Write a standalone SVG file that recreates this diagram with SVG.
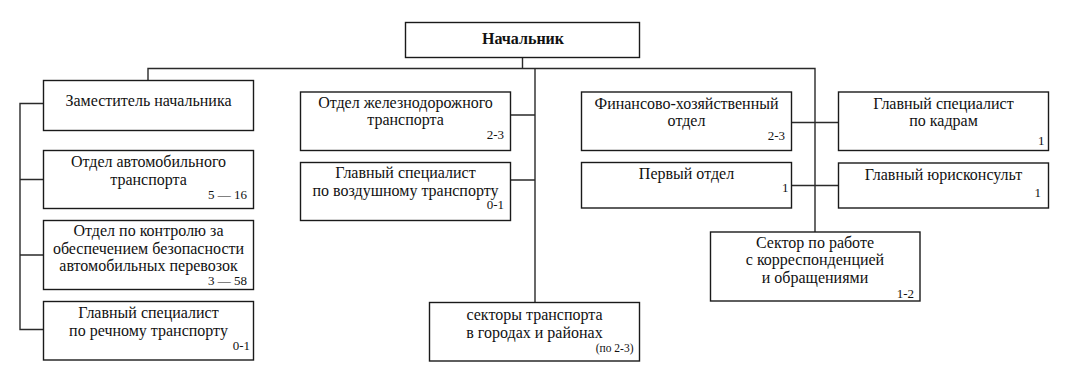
<svg xmlns="http://www.w3.org/2000/svg" width="1065" height="381" viewBox="0 0 1065 381">
<rect width="1065" height="381" fill="#fff"/>
<g id="connectors" fill="none" stroke="#2a2a2a" stroke-width="1.4">
<path d="M522.5 57.5V68.5M148 80.5V68.5H815V232M535 68.5V302.5"/>
<path d="M43.5 103.5H20V329.5H43.5M20 179.5H43.5M20 255H43.5"/>
<path d="M510.5 115H535M510.5 180H535"/>
<path d="M791.5 122.5H838.5M791.5 185.5H838.5"/>
</g>
<g fill="#fff" stroke="#1a1a1a" stroke-width="1.4">
<rect id="box-chief" x="405.5" y="22.5" width="234" height="35"/>
<rect id="box-deputy" x="43.5" y="80.5" width="210" height="50"/>
<rect id="box-auto" x="43.5" y="150.5" width="210" height="58"/>
<rect id="box-control" x="43.5" y="220.5" width="210" height="69"/>
<rect id="box-river" x="43.5" y="301.5" width="210" height="58.5"/>
<rect id="box-rail" x="300.5" y="92" width="210" height="58.5"/>
<rect id="box-air" x="300.5" y="162.5" width="210" height="58"/>
<rect id="box-sectors" x="429.5" y="302.5" width="210" height="58.5"/>
<rect id="box-fin" x="581.5" y="92" width="210" height="58.5"/>
<rect id="box-first" x="581.5" y="162.5" width="210" height="45.5"/>
<rect id="box-hr" x="838.5" y="92" width="210" height="58.5"/>
<rect id="box-legal" x="838.5" y="163" width="210" height="45"/>
<rect id="box-corr" x="710.5" y="232" width="209.5" height="69"/>
</g>
<g id="n-chief"><text style="font-family:'Times New Roman','Liberation Serif',serif;font-size:16px;font-weight:bold" text-anchor="middle" fill="#111" x="523" y="44">Начальник</text></g>
<g id="n-deputy"><text style="font-family:'Times New Roman','Liberation Serif',serif;font-size:16px" text-anchor="middle" fill="#111" x="148.5" y="106">Заместитель начальника</text></g>
<g id="n-auto"><text style="font-family:'Times New Roman','Liberation Serif',serif;font-size:16px" text-anchor="middle" fill="#111" x="148.5" y="166.5">Отдел автомобильного</text><text style="font-family:'Times New Roman','Liberation Serif',serif;font-size:16px" text-anchor="middle" fill="#111" x="148.5" y="184.5">транспорта</text><text style="font-family:'Times New Roman','Liberation Serif',serif;font-size:13px" text-anchor="end" fill="#111" x="247" y="199">5 — 16</text></g>
<g id="n-control"><text style="font-family:'Times New Roman','Liberation Serif',serif;font-size:16px" text-anchor="middle" fill="#111" x="148.5" y="236">Отдел по контролю за</text><text style="font-family:'Times New Roman','Liberation Serif',serif;font-size:16px" text-anchor="middle" fill="#111" x="148.5" y="253.5">обеспечением безопасности</text><text style="font-family:'Times New Roman','Liberation Serif',serif;font-size:16px" text-anchor="middle" fill="#111" x="148.5" y="271">автомобильных перевозок</text><text style="font-family:'Times New Roman','Liberation Serif',serif;font-size:13px" text-anchor="end" fill="#111" x="247" y="284.5">3 — 58</text></g>
<g id="n-river"><text style="font-family:'Times New Roman','Liberation Serif',serif;font-size:16px" text-anchor="middle" fill="#111" x="148.5" y="317.5">Главный специалист</text><text style="font-family:'Times New Roman','Liberation Serif',serif;font-size:16px" text-anchor="middle" fill="#111" x="148.5" y="335.5">по речному транспорту</text><text style="font-family:'Times New Roman','Liberation Serif',serif;font-size:13px" text-anchor="end" fill="#111" x="250" y="349.5">0-1</text></g>
<g id="n-rail"><text style="font-family:'Times New Roman','Liberation Serif',serif;font-size:16px" text-anchor="middle" fill="#111" x="405.5" y="107.5">Отдел железнодорожного</text><text style="font-family:'Times New Roman','Liberation Serif',serif;font-size:16px" text-anchor="middle" fill="#111" x="405.5" y="125">транспорта</text><text style="font-family:'Times New Roman','Liberation Serif',serif;font-size:13px" text-anchor="end" fill="#111" x="504" y="139">2-3</text></g>
<g id="n-air"><text style="font-family:'Times New Roman','Liberation Serif',serif;font-size:16px" text-anchor="middle" fill="#111" x="405.5" y="177.5">Главный специалист</text><text style="font-family:'Times New Roman','Liberation Serif',serif;font-size:16px" text-anchor="middle" fill="#111" x="405.5" y="195.5">по воздушному транспорту</text><text style="font-family:'Times New Roman','Liberation Serif',serif;font-size:13px" text-anchor="end" fill="#111" x="504" y="209">0-1</text></g>
<g id="n-sectors"><text style="font-family:'Times New Roman','Liberation Serif',serif;font-size:16px" text-anchor="middle" fill="#111" x="534.5" y="320">секторы транспорта</text><text style="font-family:'Times New Roman','Liberation Serif',serif;font-size:16px" text-anchor="middle" fill="#111" x="534.5" y="337.5">в городах и районах</text><text style="font-family:'Times New Roman','Liberation Serif',serif;font-size:11.5px" text-anchor="end" fill="#111" x="633.5" y="351.5">(по 2-3)</text></g>
<g id="n-fin"><text style="font-family:'Times New Roman','Liberation Serif',serif;font-size:16px" text-anchor="middle" fill="#111" x="686.5" y="108.5">Финансово-хозяйственный</text><text style="font-family:'Times New Roman','Liberation Serif',serif;font-size:16px" text-anchor="middle" fill="#111" x="686.5" y="125.5">отдел</text><text style="font-family:'Times New Roman','Liberation Serif',serif;font-size:13px" text-anchor="end" fill="#111" x="785" y="139.5">2-3</text></g>
<g id="n-first"><text style="font-family:'Times New Roman','Liberation Serif',serif;font-size:16px" text-anchor="middle" fill="#111" x="686.5" y="178.5">Первый отдел</text><text style="font-family:'Times New Roman','Liberation Serif',serif;font-size:13px" text-anchor="end" fill="#111" x="788.5" y="191.5">1</text></g>
<g id="n-hr"><text style="font-family:'Times New Roman','Liberation Serif',serif;font-size:16px" text-anchor="middle" fill="#111" x="943.5" y="108.5">Главный специалист</text><text style="font-family:'Times New Roman','Liberation Serif',serif;font-size:16px" text-anchor="middle" fill="#111" x="943.5" y="125.5">по кадрам</text><text style="font-family:'Times New Roman','Liberation Serif',serif;font-size:13px" text-anchor="end" fill="#111" x="1044.5" y="145">1</text></g>
<g id="n-legal"><text style="font-family:'Times New Roman','Liberation Serif',serif;font-size:16px" text-anchor="middle" fill="#111" x="943.5" y="180">Главный юрисконсульт</text><text style="font-family:'Times New Roman','Liberation Serif',serif;font-size:13px" text-anchor="end" fill="#111" x="1041" y="196.5">1</text></g>
<g id="n-corr"><text style="font-family:'Times New Roman','Liberation Serif',serif;font-size:16px" text-anchor="middle" fill="#111" x="815" y="248">Сектор по работе</text><text style="font-family:'Times New Roman','Liberation Serif',serif;font-size:16px" text-anchor="middle" fill="#111" x="815" y="265">с корреспонденцией</text><text style="font-family:'Times New Roman','Liberation Serif',serif;font-size:16px" text-anchor="middle" fill="#111" x="815" y="282.5">и обращениями</text><text style="font-family:'Times New Roman','Liberation Serif',serif;font-size:13px" text-anchor="end" fill="#111" x="914" y="297.5">1-2</text></g>
</svg>
